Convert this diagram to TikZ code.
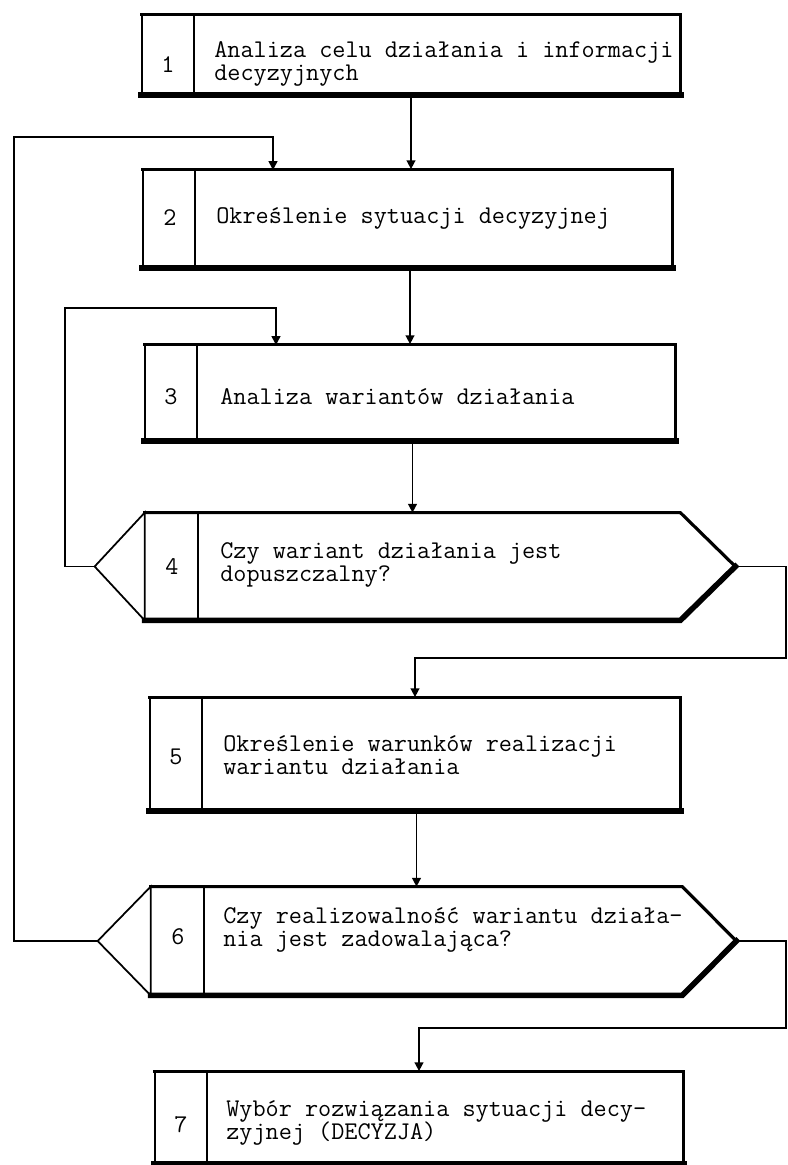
\documentclass[tikz,border=0pt]{standalone}
\usepackage{fontspec}
\usetikzlibrary{arrows.meta, positioning}

\tikzset{
  linea/.style={line width=0.9pt},
  flecha/.style={linea, -{Triangle[width=5pt,length=5pt]}},
  caja/.style={draw, line width=1pt, inner sep=0pt},
  marco/.style={inner sep=0pt},
  medio/.style={line width=1.8pt, line cap=rect},
  grueso/.style={line width=3.2pt, line cap=rect},
  numero/.style={font=\ttfamily\fontsize{14.5pt}{13.5pt}\selectfont, inner sep=0pt},
  texto/.style={font=\ttfamily\fontsize{14.5pt}{13.5pt}\selectfont, inner sep=0pt, anchor=west, align=left},
}

\begin{document}
\begin{tikzpicture}[x=0.02cm, y=-0.02cm]
  \useasboundingbox (0,0) rectangle (787,1165);

  % Bloques rectangulares
  \node[caja, minimum width=538*0.02cm, minimum height=79*0.02cm] (b1) at (411,54.5) {};
  \node[caja, minimum width=529*0.02cm, minimum height=97*0.02cm] (b2) at (407.5,218.5) {};
  \node[caja, minimum width=530*0.02cm, minimum height=95*0.02cm] (b3) at (410,392.5) {};
  \node[caja, minimum width=530*0.02cm, minimum height=112*0.02cm] (b5) at (415,754) {};
  \node[caja, minimum width=528*0.02cm, minimum height=91*0.02cm] (b7) at (419,1117.5) {};

  % Bloques de decision (hexagonos)
  \node[marco, minimum width=535*0.02cm, minimum height=107*0.02cm] (h4) at (412.5,566.5) {};
  \node[marco, minimum width=531*0.02cm, minimum height=108*0.02cm] (h6) at (416.5,941) {};
  \coordinate (h4l) at ([xshift=-50*0.02cm]h4.west);
  \coordinate (h4r) at ([xshift=55*0.02cm]h4.east);
  \coordinate (h6l) at ([xshift=-53*0.02cm]h6.west);
  \coordinate (h6r) at ([xshift=54*0.02cm]h6.east);

  \foreach \h in {h4,h6}{
    \draw[line width=1pt] (\h.north west) -- (\h l) -- (\h.south west) -- cycle;
    \draw[medio] (\h.north west) -- (\h.north east) -- (\h r);
    \draw[grueso] (\h r) -- (\h.south east) -- (\h.south west);
  }

  % Bordes gruesos de los rectangulos
  \foreach \b in {b1,b2,b3,b5,b7}{
    \draw[medio] (\b.north west) -- (\b.north east) -- (\b.south east);
    \draw[grueso] (\b.south west) -- (\b.south east);
  }

  % Separadores del numero
  \foreach \b in {b1,b2,b3,h4,b5,h6,b7}{
    \draw[line width=1pt] ([xshift=53*0.02cm]\b.north west) -- ([xshift=53*0.02cm]\b.south west);
  }

  % Numeros
  \node[numero] (n1) at (168,65) {1};
  \node[numero] (n2) at (170,218) {2};
  \node[numero] (n3) at (171,397) {3};
  \node[numero] (n4) at (172,567) {4};
  \node[numero] (n5) at (176,757) {5};
  \node[numero] (n6) at (178,937) {6};
  \node[numero] (n7) at (181,1125) {7};

  % Textos
  \node[texto] (t1) at (214,64) {Analiza celu działania i informacji\\decyzyjnych};
  \node[texto] (t2) at (216,218) {Określenie sytuacji decyzyjnej};
  \node[texto] (t3) at (220,397) {Analiza wariantów działania};
  \node[texto] (t4) at (220,565) {Czy wariant działania jest\\dopuszczalny?};
  \node[texto] (t5) at (223,755) {Określenie warunków realizacji\\wariantu działania};
  \node[texto] (t6) at (223,930) {Czy realizowalność wariantu działa-\\nia jest zadowalająca?};
  \node[texto] (t7) at (226,1123) {Wybór rozwiązania sytuacji decy-\\zyjnej (DECYZJA)};

  % Flechas principales
  \draw[flecha] (b1.south) -- (b1.south |- b2.north);
  \draw[flecha] (b3.north |- b2.south) -- (b3.north);
  \draw[flecha] (h4.north |- b3.south) -- (h4.north);
  \draw[flecha] (h6.north |- b5.south) -- (h6.north);

  % Puntos de quiebre de los lazos
  \coordinate (i6) at (14,137);
  \coordinate (e2) at (273,170);
  \coordinate (i4) at (65,308);
  \coordinate (e3) at (276,345);
  \coordinate (d4) at (786,658);
  \coordinate (d6) at (786,1028);

  % Lazos de retorno (izquierda)
  \draw[flecha] (h6l) -| (i6) -| (e2);
  \draw[flecha] (h4l) -| (i4) -| (e3);

  % Salidas a la derecha
  \draw[flecha] (h4r) -| (d4) -| (b5.north);
  \draw[flecha] (h6r) -| (d6) -| (b7.north);
\end{tikzpicture}
\end{document}
